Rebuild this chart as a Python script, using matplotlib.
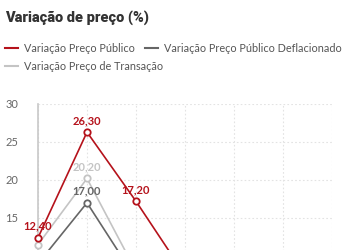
import matplotlib.pyplot as plt
from matplotlib.lines import Line2D

plt.rcParams["font.family"] = ["Lato", "DejaVu Sans"]

# categorias (eixo x fica fora do recorte)
anos = ["2016", "2017", "2018", "2019", "2020", "2021", "2022"]
preco_publico = [12.4, 26.3, 17.2, 7.5, 5.0, 4.0, 3.5]
preco_deflacionado = [9.0, 17.0, 7.0, 3.5, 2.0, 1.5, 1.0]
preco_transacao = [11.5, 20.2, 8.0, 4.0, 3.0, 2.5, 2.0]

VERMELHO = "#b5121b"
CINZA_ESCURO = "#666666"
CINZA_CLARO = "#c4c4c4"

fig = plt.figure(figsize=(3.5, 2.5), dpi=100)
# o gráfico continua abaixo do recorte
eixo = fig.add_axes([38 / 350, 1 - 104 / 250 - 0.912, (332 - 38) / 350, 0.912])

x = list(range(len(anos)))
series = [
    (preco_deflacionado, CINZA_ESCURO, [1]),
    (preco_transacao, CINZA_CLARO, [1]),
    (preco_publico, VERMELHO, [0, 1, 2]),
]
for valores, cor, rotulos in series:
    eixo.plot(x, valores, color=cor, lw=1.2, marker="o", ms=4.6,
              mfc="white", mec=cor, mew=1.3, clip_on=False, zorder=3)
    for i in rotulos:
        eixo.annotate(f"{valores[i]:.2f}".replace(".", ","), (x[i], valores[i]),
                      xytext=(0, 4.5), textcoords="offset points", ha="center",
                      va="bottom", color=cor, fontsize=8, fontweight="bold",
                      zorder=4)

eixo.set_xlim(0, len(anos) - 1)
eixo.set_ylim(0, 30)
eixo.set_yticks([15, 20, 25, 30])
eixo.set_xticks(x)
eixo.set_xticklabels([])
eixo.grid(True, color="#e3e3e3", lw=0.8, linestyle=(0, (1.5, 2)))
eixo.set_axisbelow(True)
for lado in ["top", "right", "bottom"]:
    eixo.spines[lado].set_visible(False)
eixo.spines["left"].set_color("#c8c8c8")
eixo.spines["left"].set_linewidth(1.2)
eixo.tick_params(axis="y", length=0, pad=14, labelsize=8, labelcolor="#666666")
eixo.tick_params(axis="x", length=0)

fig.text(5 / 350, 1 - 18 / 250, "Variação de preço (%)", fontsize=10.5,
         fontweight="black", color="#333333", va="center", ha="left",
         family=["Roboto", "DejaVu Sans"])

# legenda manual (a segunda linha passa por baixo da segunda coluna)
legenda = [
    (VERMELHO, "Variação Preço Público", 5, 48),
    (CINZA_ESCURO, "Variação Preço Público Deflacionado", 145, 48),
    (CINZA_CLARO, "Variação Preço de Transação", 5, 66),
]
for cor, nome, px, py in legenda:
    y = 1 - py / 250
    fig.add_artist(Line2D([px / 350, (px + 13) / 350], [y, y], color=cor, lw=1.5))
    fig.text((px + 19) / 350, y, nome, fontsize=7.8, color="#555555",
             va="center", ha="left")

fig.savefig("out.png", dpi=100)
